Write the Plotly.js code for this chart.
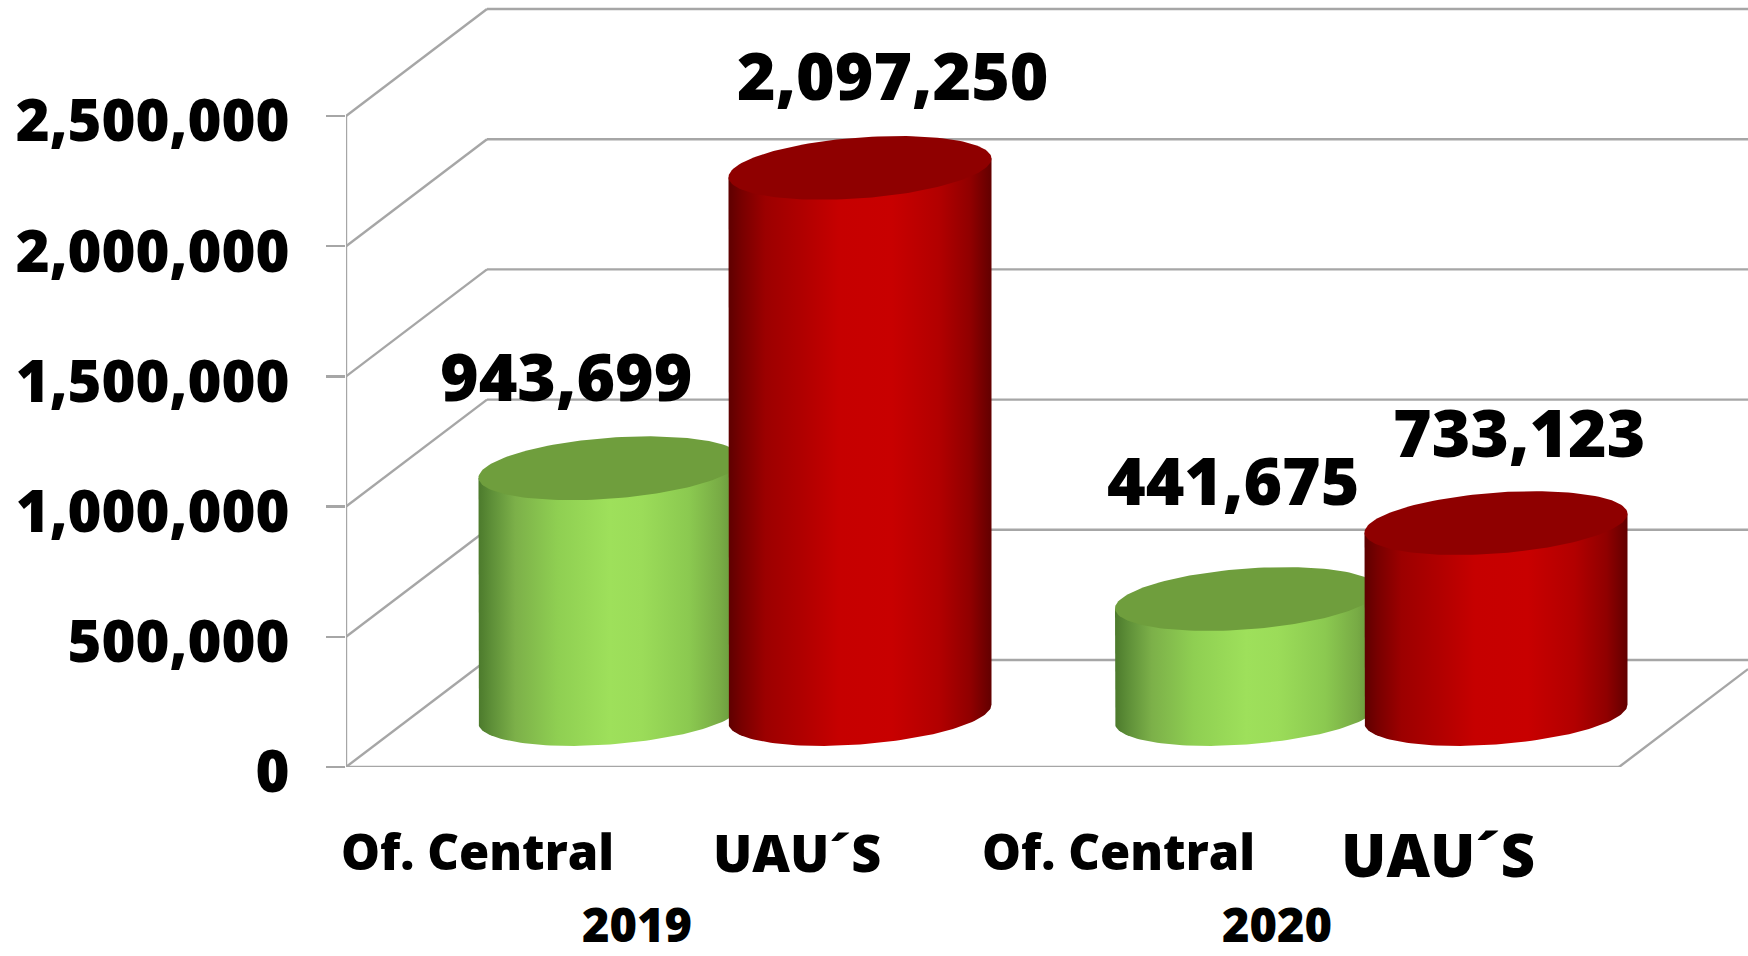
<!DOCTYPE html>
<html><head><meta charset="utf-8">
<script src="https://cdn.plot.ly/plotly-3.0.1.min.js"></script>
<style>html,body{margin:0;padding:0;background:#fff}#c{width:1748px;height:956px}</style>
</head><body><div id="c"></div>
<script>
const categories = ["Of. Central", "UAU´S", "Of. Central", "UAU´S"];
const years = ["2019", "2020"];
const values = [943699, 2097250, 441675, 733123];
const valueLabels = ["943,699", "2,097,250", "441,675", "733,123"];
const tickValues = [0, 500000, 1000000, 1500000, 2000000, 2500000];
const tickLabels = ["0", "500,000", "1,000,000", "1,500,000", "2,000,000", "2,500,000"];

// pixel geometry of the oblique frame
const W = 1748, H = 956, L = 346, Y0 = 767, PX_PER_UNIT = 651 / 2500000;
const DX = 141, DY = 107;
const FLOOR_END = 1619;
const CENTERS = [610, 860, 1246.5, 1496];
const RX = 131.5, RY = 30.5, SKEW = 9.4, BASE_Y = 714;

const vOf = py => (Y0 - py) / PX_PER_UNIT;   // pixel row -> value
const xOf = px => px - L;                    // pixel col -> x axis unit
const dv = dpx => dpx / PX_PER_UNIT;

const GRID = '#a6a6a6';
const greenScale = [[0,'#4c7a2c'],[0.05,'#5e8f38'],[0.14,'#7cb049'],[0.3,'#8fcf52'],[0.5,'#9ee05b'],[0.62,'#9bdc59'],[0.8,'#8bc950'],[0.92,'#78ab45'],[1,'#628f38']];
const redScale = [[0,'#5e0000'],[0.05,'#780000'],[0.14,'#9c0000'],[0.28,'#b00000'],[0.42,'#c60000'],[0.62,'#c80000'],[0.8,'#b20000'],[0.92,'#900000'],[1,'#620000']];
const TOPS = ['#6f9e3d', '#8f0000'];

const traces = [];
const line = (xs, ys) => traces.push({x: xs, y: ys, type: 'scatter', mode: 'lines',
  line: {color: GRID, width: 2.4}, hoverinfo: 'skip', showlegend: false, cliponaxis: false});

// frame: front axis, side wall, back wall, floor
line([xOf(L), xOf(L)], [0, tickValues[tickValues.length - 1]]);
tickValues.forEach(v => {
  line([xOf(L), xOf(L + DX)], [v, v + dv(DY)]);
  if (v > 0) line([xOf(L + DX), xOf(W)], [v + dv(DY), v + dv(DY)]);
});
line([xOf(L + DX), xOf(W)], [dv(DY), dv(DY)]);
line([xOf(L), xOf(FLOOR_END)], [0, 0]);
line([xOf(FLOOR_END), xOf(W)], [0, dv((W - FLOOR_END) * DY / DX)]);

// cylinders
function ellipsePts(cx, baseV, t0, t1, n) {
  const xs = [], ys = [];
  for (let i = 0; i <= n; i++) {
    const t = t0 + (t1 - t0) * i / n;
    xs.push(xOf(cx + RX * Math.cos(t)));
    ys.push(baseV - dv(-SKEW * Math.cos(t) + RY * Math.sin(t)));
  }
  return {xs, ys};
}
values.forEach((v, i) => {
  const cx = CENTERS[i], baseV = vOf(BASE_Y), topV = baseV + v;
  const scale = i % 2 ? redScale : greenScale;
  const bottom = ellipsePts(cx, baseV, Math.PI, 0, 80);
  const bx = [xOf(cx - RX)].concat(bottom.xs, [xOf(cx + RX), xOf(cx - RX)]);
  const by = [topV - dv(SKEW)].concat(bottom.ys, [topV + dv(SKEW), topV - dv(SKEW)]);
  traces.push({x: bx, y: by, type: 'scatter', mode: 'lines', fill: 'toself',
    line: {width: 0, color: 'rgba(0,0,0,0)'},
    fillgradient: {type: 'horizontal', colorscale: scale},
    name: categories[i], hoverinfo: 'skip', showlegend: false});
  const top = ellipsePts(cx, topV, 0, 2 * Math.PI, 140);
  traces.push({x: top.xs, y: top.ys, type: 'scatter', mode: 'lines', fill: 'toself',
    fillcolor: TOPS[i % 2], line: {width: 0, color: 'rgba(0,0,0,0)'},
    hoverinfo: 'skip', showlegend: false});
});

const FONT = '"Open Sans", Inter, sans-serif';
const ann = (text, px, py, size) => ({text, x: xOf(px), y: (Y0 - py) / Y0, xref: 'x', yref: 'paper',
  showarrow: false, xanchor: 'center', yanchor: 'middle',
  font: {family: FONT, size, color: '#000', weight: 800}});

const valuePos = [[566, 375], [893, 74], [1233, 479], [1519, 431]];
const catPos = [[477, 851, 49], [797, 851, 52], [1118, 851, 49], [1438, 854, 60]];
const yearPos = [[637, 924], [1276.5, 924]];

const annotations = [];
values.forEach((v, i) => annotations.push(ann(valueLabels[i], valuePos[i][0], valuePos[i][1], 66)));
categories.forEach((c, i) => annotations.push(ann(c, catPos[i][0], catPos[i][1], catPos[i][2])));
years.forEach((y, i) => annotations.push(ann(y, yearPos[i][0], yearPos[i][1], 47)));

const layout = {
  width: W, height: H,
  margin: {l: L, r: 0, t: 0, b: H - Y0, pad: 0},
  paper_bgcolor: '#fff', plot_bgcolor: '#fff',
  showlegend: false, hovermode: false,
  xaxis: {range: [0, W - L], showgrid: false, zeroline: false, showline: false,
    showticklabels: false, ticks: '', fixedrange: true},
  yaxis: {range: [0, vOf(0)], showgrid: false, zeroline: false, showline: false,
    tickmode: 'array', tickvals: tickValues, ticktext: tickLabels,
    ticks: 'outside', ticklen: 19, tickwidth: 2.4, tickcolor: GRID,
    ticklabelstandoff: 25, ticklabelshift: 5,
    tickfont: {family: FONT, size: 58, color: '#000', weight: 800},
    fixedrange: true, automargin: false},
  annotations
};
Plotly.newPlot('c', traces, layout, {displayModeBar: false, staticPlot: true});
</script></body></html>
